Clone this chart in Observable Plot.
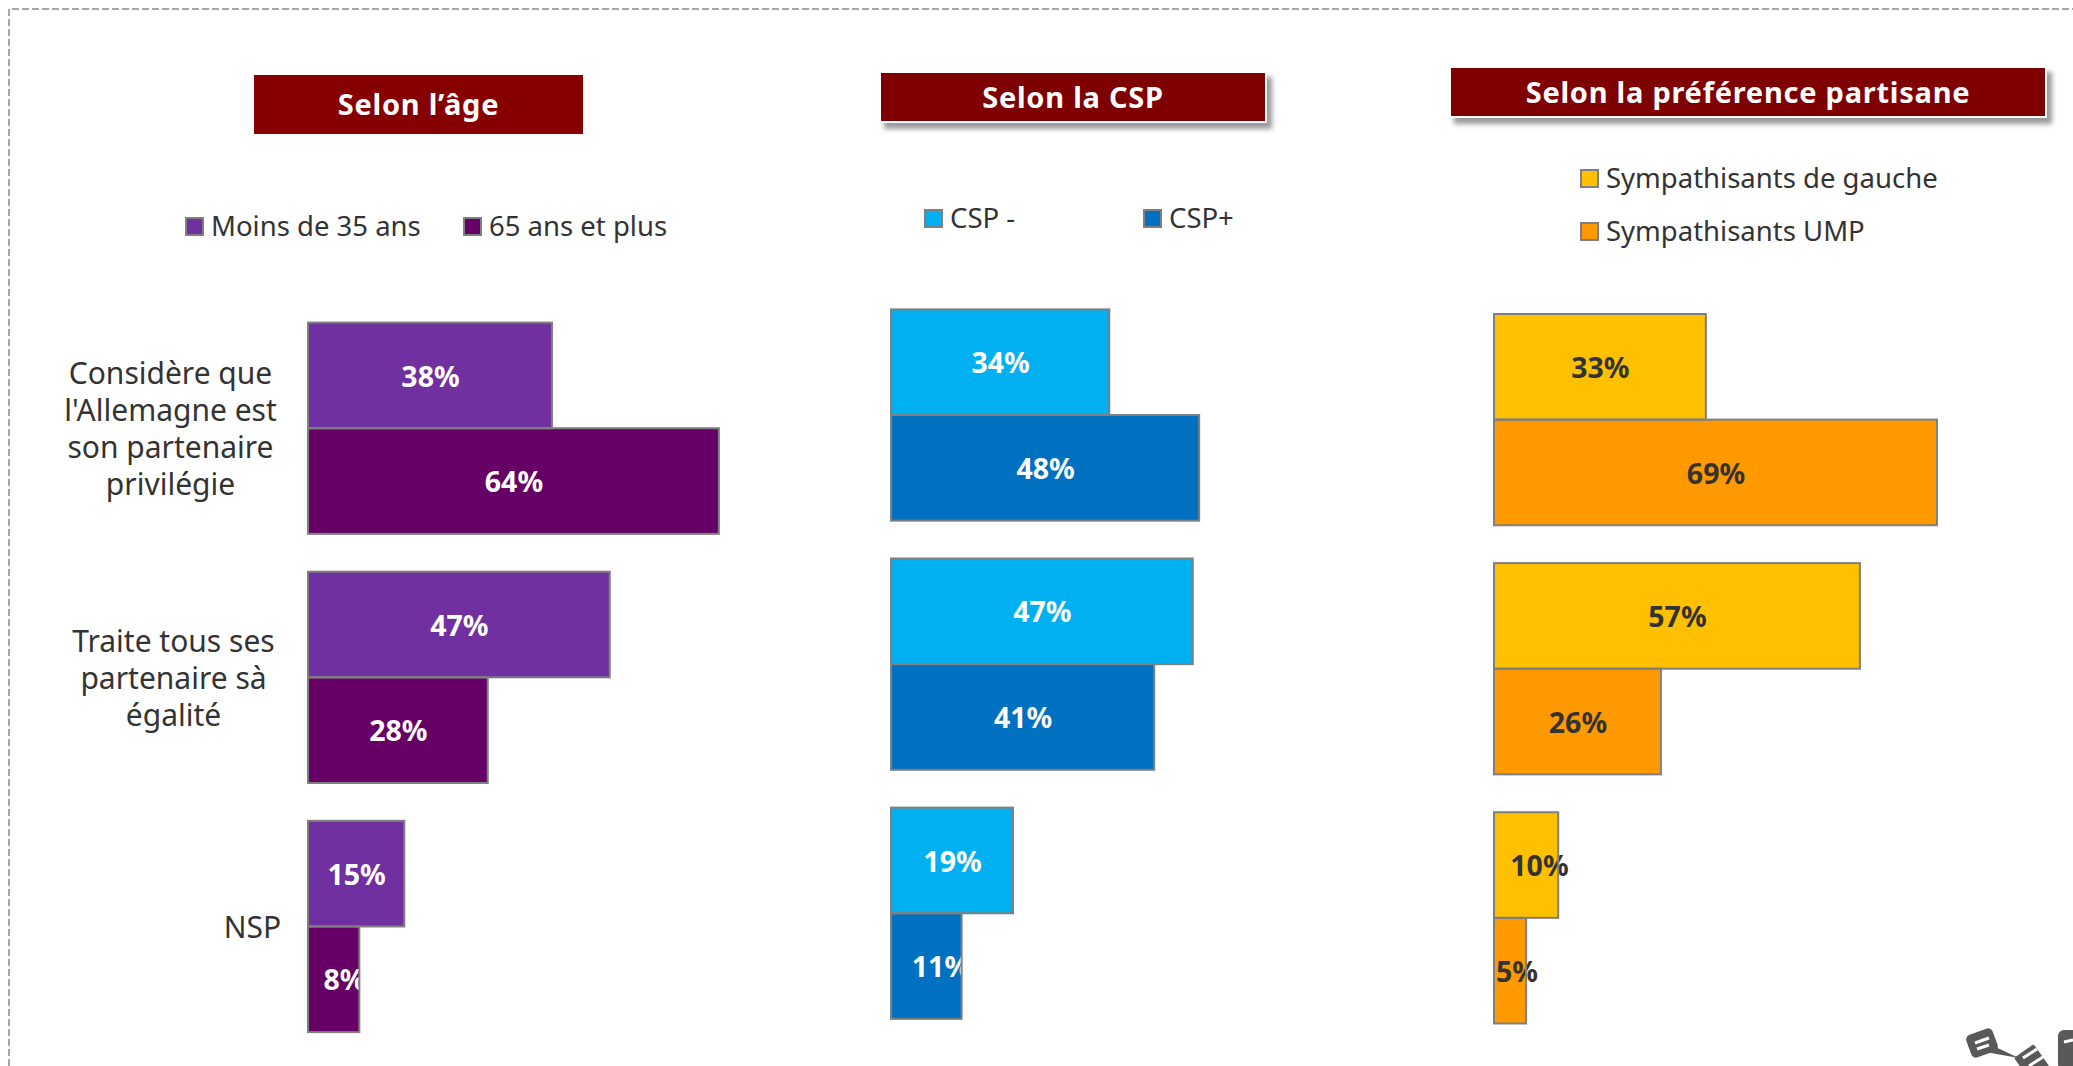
<!DOCTYPE html>
<html lang="fr">
<head>
<meta charset="utf-8">
<script src="https://cdn.jsdelivr.net/npm/d3@7"></script>
<script src="https://cdn.jsdelivr.net/npm/@observablehq/plot@0.6"></script>
<style>
  html, body { margin: 0; padding: 0; background: #fff; height: 1066px; overflow: hidden; }
  #page { position: relative; width: 2073px; height: 1066px; overflow: hidden; font-family: "Noto Sans", sans-serif; color: #333; }
  #page svg { position: absolute; }
  .head { position: absolute; display: flex; align-items: center; justify-content: center; color: #fff; font-weight: 700; font-size: 29px; letter-spacing: .75px; box-sizing: border-box; padding-bottom: 2px; }
  .head.shadow { background: #7f0000; border: 2px solid #fff; box-shadow: 5px 6px 5px rgba(0,0,0,.4); }
  .head.flat { background: #860000; }
  .key { position: absolute; display: flex; align-items: center; font-size: 27.5px; white-space: nowrap; line-height: 1; }
  .key i { display: block; width: 15px; height: 15px; border: 2px solid #7f7f7f; margin-right: 7px; flex: none; }
</style>
</head>
<body>
<div id="page"></div>
<script>
// Categories
const questions = ["Considère que l'Allemagne", "Traite tous ses partenaires", "NSP"];
const questionLabels = ["Considère que\nl'Allemagne est\nson partenaire\nprivilégie", "Traite tous ses\npartenaire sà\négalité", "NSP"];

// Series values (%)
const moins35 = [38, 47, 15];
const plus65 = [64, 28, 8];
const cspMoins = [34, 47, 19];
const cspPlus = [48, 41, 11];
const gauche = [33, 57, 10];
const ump = [69, 26, 5];

// Series names and colours
const ageSeries = ["Moins de 35 ans", "65 ans et plus"];
const ageColors = ["#7030a0", "#660066"];
const cspSeries = ["CSP -", "CSP+"];
const cspColors = ["#00b0f0", "#0070c0"];
const partySeries = ["Sympathisants de gauche", "Sympathisants UMP"];
const partyColors = ["#ffc000", "#ff9900"];

const page = document.getElementById("page");
const pxPerPct = 6.42, groupsHeight = 709.5, xMax = 72;
const ns = "http://www.w3.org/2000/svg";

// Dashed slide frame (top and left edges)
const frame = document.createElementNS(ns, "svg");
frame.setAttribute("width", 2073);
frame.setAttribute("height", 1066);
frame.style.cssText = "left:0;top:0";
frame.innerHTML = `<path d="M9 1066 V9 H2073" fill="none" stroke="#a6a6a6" stroke-width="2" stroke-dasharray="7 3"/>`;
page.appendChild(frame);

function tidy(series, a, b) {
  return questions.flatMap((q, i) => [
    {q, s: series[0], v: a[i]},
    {q, s: series[1], v: b[i]}
  ]);
}

// Short bars have their label pushed towards the bar's right edge
const labelX = d => d.v / 2 + (d.v <= 11 ? d.v * 0.2 : 0);

function panel({series, colors, a, b, left, x0, y0, ink, withLabels}) {
  const top = 280, marginLeft = x0 - left, marginTop = y0 - top;
  const rows = tidy(series, a, b);
  const marks = [
    Plot.barX(rows, {x: "v", y: "s", fy: "q", fill: "s"}),
    Plot.text(rows, {x: labelX, y: "s", fy: "q", dy: 1.5, text: d => d.v + "%", fill: ink, fontWeight: 700, fontSize: 28.5}),
    Plot.barX(rows, {x: "v", y: "s", fy: "q", stroke: "#7f7f7f", strokeWidth: 2, fill: "none"})
  ];
  if (withLabels) {
    const common = {
      fy: d => d,
      text: d => questionLabels[questions.indexOf(d)],
      frameAnchor: "left", textAnchor: "middle",
      fontSize: 30, lineHeight: 1.23, fill: "#333", dy: -1
    };
    marks.push(Plot.text(questions.slice(0, 1), {...common, dx: -138}));
    marks.push(Plot.text(questions.slice(1, 2), {...common, dx: -135}));
    marks.push(Plot.text(questions.slice(2), {...common, dx: -56}));
  }
  const width = marginLeft + pxPerPct * xMax + 6;
  const svg = Plot.plot({
    width, height: marginTop + groupsHeight + 10,
    marginLeft, marginTop, marginRight: width - marginLeft - pxPerPct * xMax, marginBottom: 10,
    style: {background: "transparent", overflow: "visible", fontFamily: '"Noto Sans", sans-serif'},
    x: {axis: null, domain: [0, xMax]},
    y: {axis: null, domain: series, padding: 0, round: false},
    fy: {axis: null, domain: questions, paddingInner: 0.152, paddingOuter: 0, round: false},
    color: {domain: series, range: colors},
    marks
  });
  svg.style.left = left + "px";
  svg.style.top = top + "px";
  page.appendChild(svg);
}

panel({series: ageSeries, colors: ageColors, a: moins35, b: plus65, left: 0, x0: 308, y0: 322.6, ink: "#fff", withLabels: true});
panel({series: cspSeries, colors: cspColors, a: cspMoins, b: cspPlus, left: 850, x0: 891, y0: 309.4, ink: "#fff"});
panel({series: partySeries, colors: partyColors, a: gauche, b: ump, left: 1460, x0: 1494, y0: 314, ink: "#333"});

// Section headers
[
  ["Selon l’âge", 254, 75, 329, 59, "flat"],
  ["Selon la CSP", 879, 71, 388, 52, "shadow"],
  ["Selon la préférence partisane", 1449, 66, 598, 52, "shadow"]
].forEach(([t, x, y, w, h, cls]) => {
  const el = document.createElement("div");
  el.className = "head " + cls;
  el.textContent = t;
  el.style.cssText = `left:${x}px;top:${y}px;width:${w}px;height:${h}px`;
  page.appendChild(el);
});

// Legends
[
  [ageSeries[0], ageColors[0], 185, 226],
  [ageSeries[1], ageColors[1], 463, 226],
  [cspSeries[0], cspColors[0], 924, 218],
  [cspSeries[1], cspColors[1], 1143, 218],
  [partySeries[0], partyColors[0], 1580, 178],
  [partySeries[1], partyColors[1], 1580, 231]
].forEach(([t, c, x, y]) => {
  const el = document.createElement("div");
  el.className = "key";
  el.innerHTML = `<i style="background:${c}"></i><span></span>`;
  el.querySelector("span").textContent = t;
  el.style.cssText = `left:${x}px;top:${y - 14}px;height:28px`;
  page.appendChild(el);
});

// Corner pictogram
const deco = document.createElementNS(ns, "svg");
deco.setAttribute("width", 120);
deco.setAttribute("height", 60);
deco.style.cssText = "left:1953px;top:1006px";
deco.innerHTML = `
  <g fill="#595959">
    <rect x="15" y="25" width="28" height="24" rx="5" transform="rotate(-20 29 37)"/>
    <path d="M32 46 L66 52 L36 38 Z"/>
    <rect x="68" y="42" width="24" height="32" rx="2" transform="rotate(-35 80 58)"/>
    <rect x="105" y="24" width="30" height="40" rx="6"/>
  </g>
  <g stroke="#fff" stroke-width="3" fill="none">
    <path d="M22 37 L36 32 M24 43 L36 39"/>
    <path d="M70 52 L84 43 M76 60 L90 51"/>
    <path d="M111 36 L120 34"/>
  </g>`;
page.appendChild(deco);
</script>
</body>
</html>
